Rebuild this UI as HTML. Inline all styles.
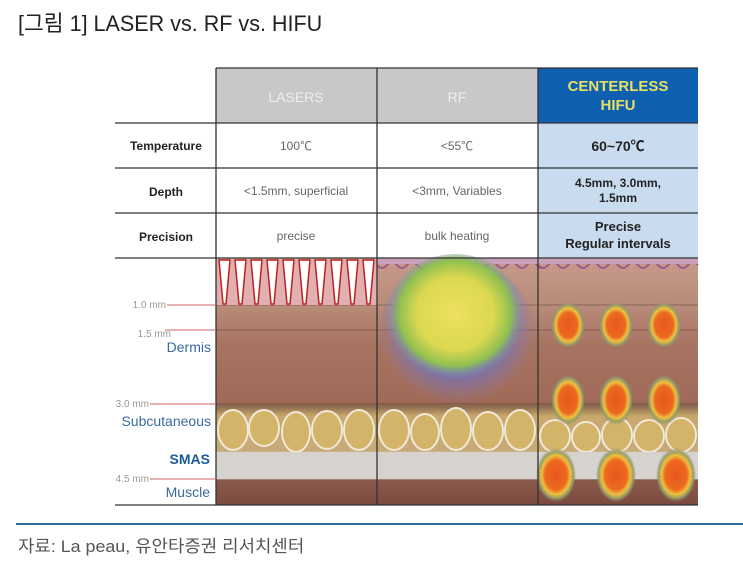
<!DOCTYPE html>
<html><head><meta charset="utf-8"><style>
html,body{margin:0;padding:0;background:#fff;width:743px;height:563px;overflow:hidden}
svg{display:block}
</style></head><body>
<svg width="743" height="563" viewBox="0 0 743 563" xmlns="http://www.w3.org/2000/svg" font-family="'Liberation Sans','Noto Sans CJK KR',sans-serif">
<defs>
<radialGradient id="rf" cx="0.5" cy="0.45" r="0.5">
<stop offset="0" stop-color="#ece060"/><stop offset="0.55" stop-color="#dcd850"/><stop offset="0.8" stop-color="#90c050"/><stop offset="1" stop-color="#7a8fc0" stop-opacity="0"/>
</radialGradient>
<radialGradient id="blue" cx="0.5" cy="0.4" r="0.5">
<stop offset="0.55" stop-color="#6a6ac8" stop-opacity="0.9"/><stop offset="1" stop-color="#8080c0" stop-opacity="0"/>
</radialGradient>
<radialGradient id="dot" cx="0.5" cy="0.5" r="0.5">
<stop offset="0" stop-color="#e8561e"/><stop offset="0.55" stop-color="#ec6a1f"/><stop offset="0.72" stop-color="#f0c040"/><stop offset="0.86" stop-color="#9aa060"/><stop offset="1" stop-color="#8a8a80" stop-opacity="0"/>
</radialGradient>
<linearGradient id="skin" x1="0" y1="0" x2="0" y2="1">
<stop offset="0" stop-color="#c89a8c"/><stop offset="0.2" stop-color="#b88a78"/><stop offset="0.35" stop-color="#a87462"/><stop offset="0.58" stop-color="#a06a58"/><stop offset="0.6" stop-color="#8a6a50"/><stop offset="0.64" stop-color="#c8a86a"/><stop offset="0.78" stop-color="#c8aa78"/><stop offset="0.8" stop-color="#d8d4d0"/><stop offset="0.89" stop-color="#d0ccc8"/><stop offset="0.9" stop-color="#8a5a4c"/><stop offset="1" stop-color="#7a4a3e"/>
</linearGradient>
</defs>
<text x="18" y="31" font-size="22" fill="#222" transform="translate(18 0) scale(0.98 1) translate(-18 0)">[그림 1] LASER vs. RF vs. HIFU</text>

<rect x="216" y="68" width="161" height="55" fill="#c8c8c8"/>
<rect x="377" y="68" width="161" height="55" fill="#c8c8c8"/>
<rect x="538" y="68" width="160" height="55" fill="#0f5fb0"/>
<rect x="538" y="123" width="160" height="135" fill="#c9dcef"/>
<text x="296" y="102" font-size="14" fill="#eee" text-anchor="middle">LASERS</text>
<text x="457" y="102" font-size="14" fill="#eee" text-anchor="middle">RF</text>
<text x="618" y="91" font-size="15" font-weight="bold" fill="#e8e060" text-anchor="middle">CENTERLESS</text>
<text x="618" y="110" font-size="15" font-weight="bold" fill="#e8e060" text-anchor="middle">HIFU</text>

<g font-size="12" fill="#222" font-weight="bold" text-anchor="middle">
<text x="166" y="150">Temperature</text>
<text x="166" y="196">Depth</text>
<text x="166" y="241">Precision</text>
</g>
<g font-size="12" fill="#666" text-anchor="middle">
<text x="296" y="150">100℃</text><text x="457" y="150">&lt;55℃</text>
<text x="296" y="195">&lt;1.5mm, superficial</text><text x="457" y="195">&lt;3mm, Variables</text>
<text x="296" y="240">precise</text><text x="457" y="240">bulk heating</text>
</g>
<g fill="#222" font-weight="bold" text-anchor="middle">
<text x="618" y="151" font-size="14">60~70℃</text>
<text x="618" y="187" font-size="12">4.5mm, 3.0mm,</text>
<text x="618" y="202" font-size="12">1.5mm</text>
<text x="618" y="231" font-size="13">Precise</text>
<text x="618" y="248" font-size="13">Regular intervals</text>
</g>

<rect x="216" y="258" width="482" height="247" fill="url(#skin)"/>
<g stroke="#5a3a30" stroke-width="0.8" opacity="0.6">
<line x1="216" y1="305" x2="698" y2="305"/><line x1="216" y1="330" x2="698" y2="330"/><line x1="216" y1="404" x2="698" y2="404"/>
</g>
<g fill="#d4b468" stroke="#f0e8d8" stroke-width="2">
<ellipse cx="233" cy="430" rx="15" ry="20"/><ellipse cx="264" cy="428" rx="15" ry="18"/><ellipse cx="296" cy="432" rx="14" ry="20"/><ellipse cx="327" cy="430" rx="15" ry="19"/><ellipse cx="359" cy="430" rx="15" ry="20"/>
<ellipse cx="394" cy="430" rx="15" ry="20"/><ellipse cx="425" cy="432" rx="14" ry="18"/><ellipse cx="456" cy="429" rx="15" ry="21"/><ellipse cx="488" cy="431" rx="15" ry="19"/><ellipse cx="520" cy="430" rx="15" ry="20"/>
<ellipse cx="555" cy="436" rx="15" ry="16"/><ellipse cx="586" cy="437" rx="14" ry="15"/><ellipse cx="617" cy="435" rx="15" ry="17"/><ellipse cx="649" cy="436" rx="15" ry="16"/><ellipse cx="681" cy="435" rx="15" ry="17"/>
</g>
<rect x="216" y="452" width="482" height="27" fill="#d6d2ce"/>
<path d="M377 265 q5 6 10 0 t10 0 t10 0 t10 0 t10 0 t10 0 t10 0 t10 0 t10 0 t10 0 t10 0 t10 0 t10 0 t10 0 t10 0 t10 0 t1 0" fill="none" stroke="#9a5a8a" stroke-width="2"/>
<path d="M538 265 q5 6 10 0 t10 0 t10 0 t10 0 t10 0 t10 0 t10 0 t10 0 t10 0 t10 0 t10 0 t10 0 t10 0 t10 0 t10 0 t10 0" fill="none" stroke="#9a5a8a" stroke-width="2"/>
<rect x="377" y="258" width="321" height="6" fill="#c8a0b8"/>
<rect x="216" y="258" width="161" height="47" fill="#e0b0b0"/>
<g fill="#fff" stroke="#c02020" stroke-width="1.5">
<path d="M219 260 l11 0 l-4 44 l-3 0z"/><path d="M235 260 l11 0 l-4 44 l-3 0z"/><path d="M251 260 l11 0 l-4 44 l-3 0z"/><path d="M267 260 l11 0 l-4 44 l-3 0z"/><path d="M283 260 l11 0 l-4 44 l-3 0z"/><path d="M299 260 l11 0 l-4 44 l-3 0z"/><path d="M315 260 l11 0 l-4 44 l-3 0z"/><path d="M331 260 l11 0 l-4 44 l-3 0z"/><path d="M347 260 l11 0 l-4 44 l-3 0z"/><path d="M363 260 l11 0 l-4 44 l-3 0z"/>
</g>
<ellipse cx="457" cy="340" rx="80" ry="80" fill="url(#blue)"/>
<ellipse cx="455" cy="320" rx="70" ry="66" fill="url(#rf)"/>
<g fill="url(#dot)">
<ellipse cx="568" cy="325" rx="17" ry="23"/><ellipse cx="616" cy="325" rx="17" ry="23"/><ellipse cx="664" cy="325" rx="17" ry="23"/>
<ellipse cx="568" cy="400" rx="17" ry="25"/><ellipse cx="616" cy="400" rx="17" ry="25"/><ellipse cx="664" cy="400" rx="17" ry="25"/>
<ellipse cx="556" cy="475" rx="20" ry="27"/><ellipse cx="616" cy="475" rx="20" ry="27"/><ellipse cx="676" cy="475" rx="20" ry="27"/>
</g>

<g stroke="#333" stroke-width="1.3">
<line x1="216" y1="68" x2="698" y2="68"/>
<line x1="115" y1="123" x2="698" y2="123"/><line x1="115" y1="168" x2="698" y2="168"/><line x1="115" y1="213" x2="698" y2="213"/><line x1="115" y1="258" x2="698" y2="258"/>
<line x1="115" y1="505" x2="698" y2="505"/>
<line x1="216" y1="68" x2="216" y2="505"/><line x1="377" y1="68" x2="377" y2="505"/><line x1="538" y1="68" x2="538" y2="505"/>
</g>
<g stroke="#d06060" stroke-width="1">
<line x1="167" y1="305" x2="216" y2="305"/><line x1="165" y1="330" x2="216" y2="330"/><line x1="150" y1="404" x2="216" y2="404"/><line x1="150" y1="479" x2="216" y2="479"/>
</g>
<g font-size="10" fill="#999" text-anchor="end">
<text x="166" y="308">1.0 mm</text><text x="171" y="337">1.5 mm</text><text x="149" y="407">3.0 mm</text><text x="149" y="482">4.5 mm</text>
</g>
<g font-size="14" fill="#3a6aa0" text-anchor="end">
<text x="211" y="352">Dermis</text><text x="211" y="426">Subcutaneous</text><text x="210" y="497">Muscle</text>
<text x="210" y="464" font-weight="bold" fill="#1a5a9a">SMAS</text>
</g>

<line x1="16" y1="524" x2="743" y2="524" stroke="#2f6ea5" stroke-width="2"/>
<text x="18" y="552" font-size="17" fill="#555" transform="translate(18 0) scale(1.05 1) translate(-18 0)">자료: La peau, 유안타증권 리서치센터</text>
</svg>
</body></html>
